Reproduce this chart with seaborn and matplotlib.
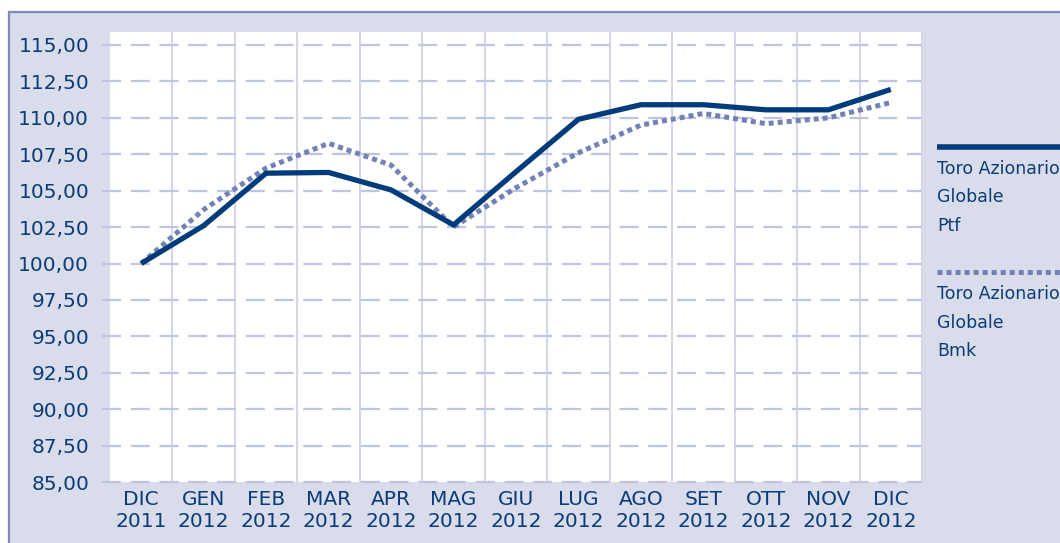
import matplotlib
matplotlib.use("Agg")
import matplotlib.pyplot as plt
import seaborn as sns
import pandas as pd
from matplotlib.patches import Rectangle
from matplotlib.lines import Line2D

months = ["DIC\n2011", "GEN\n2012", "FEB\n2012", "MAR\n2012", "APR\n2012", "MAG\n2012",
          "GIU\n2012", "LUG\n2012", "AGO\n2012", "SET\n2012", "OTT\n2012", "NOV\n2012", "DIC\n2012"]
ptf = [100.00, 102.60, 106.20, 106.25, 105.05, 102.65, 106.30, 109.90, 110.90, 110.90, 110.55, 110.55, 111.95]
bmk = [100.00, 103.70, 106.55, 108.25, 106.75, 102.50, 105.20, 107.60, 109.50, 110.30, 109.60, 110.00, 111.05]
yticks = [85.0, 87.5, 90.0, 92.5, 95.0, 97.5, 100.0, 102.5, 105.0, 107.5, 110.0, 112.5, 115.0]
series_names = ["Toro Azionario\nGlobale\nPtf", "Toro Azionario\nGlobale\nBmk"]

sns.set_theme(style="white")
plt.rcParams['font.family'] = ['DejaVu Sans Condensed', 'DejaVu Sans']
plt.rcParams['lines.scale_dashes'] = False

TXT = "#0b3c78"
LAV = "#d9dcea"
FRAME = "#7d8cc0"
GRID = "#bfc5e0"
VGRID = "#c6cbe3"
C_PTF = "#003c7c"
C_BMK = "#7282b6"

W, H = 1060, 543
fig = plt.figure(figsize=(W / 100, H / 100), dpi=100)
fig.patch.set_facecolor("white")
fig.add_artist(Rectangle((8.5 / W, -0.05), 1.1, 1 - 12 / H + 0.05, transform=fig.transFigure,
                         facecolor=LAV, edgecolor=FRAME, linewidth=1.6, zorder=0))

ax = fig.add_axes([110 / W, 1 - 482 / H, 812 / W, (482 - 32) / H])
ax.set_facecolor("white")

x = list(range(len(months)))
df = pd.DataFrame({
    "x": x * 2,
    "value": ptf + bmk,
    "series": [series_names[0]] * len(x) + [series_names[1]] * len(x),
})

ax.set_xlim(-0.5, 12.5)
ax.set_ylim(85, 115 + 13 / (437 / 30))

# horizontal dashed gridlines (extending slightly left of the plot)
for yv in yticks:
    ax.axhline(yv, xmin=-8 / 812, xmax=1, color=GRID, linewidth=1.6,
               linestyle=(0, (13.7, 7.0)), clip_on=False, zorder=1)
# vertical separators between months
for xv in [i + 0.5 for i in range(len(months))]:
    ax.axvline(xv, color=VGRID, linewidth=1.1, zorder=1)

sns.lineplot(data=df[df.series == series_names[1]], x="x", y="value", ax=ax,
             color=C_BMK, linewidth=3.6, legend=False, zorder=3,
             linestyle=(0, (3.6, 2.9)), solid_capstyle="butt", dash_capstyle="butt")
sns.lineplot(data=df[df.series == series_names[0]], x="x", y="value", ax=ax,
             color=C_PTF, linewidth=3.8, legend=False, zorder=4,
             solid_capstyle="butt", solid_joinstyle="miter")

ax.set_xlabel("")
ax.set_ylabel("")
ax.set_xticks(x)
ax.set_xticklabels(months, fontsize=14.5, color=TXT, linespacing=1.2)
ax.set_xticks([i + 0.5 for i in range(len(months) - 1)], minor=True)
ax.tick_params(axis="x", which="major", length=0, pad=6)
ax.tick_params(axis="x", which="minor", length=13, width=1.1, color=VGRID, direction="out")
ax.set_yticks(yticks)
ax.set_yticklabels([f"{v:.2f}".replace(".", ",") for v in yticks], fontsize=14.5, color=TXT)
ax.tick_params(axis="y", length=0, pad=15)
for s in ax.spines.values():
    s.set_visible(False)

# legend at the right
lx0 = 937 / W
for i, (name, col, ls, yl) in enumerate([
        (series_names[0], C_PTF, "-", 146.5),
        (series_names[1], C_BMK, (0, (3.6, 2.9)), 272)]):
    fig.add_artist(Line2D([lx0, 1.02], [1 - yl / H, 1 - yl / H], transform=fig.transFigure,
                          color=col, linewidth=4.0 if i == 0 else 3.6, linestyle=ls,
                          solid_capstyle="butt", dash_capstyle="butt"))
    fig.text(lx0, 1 - (yl + 13) / H, name, ha="left", va="top", fontsize=12.5,
             color=TXT, linespacing=1.75)

fig.savefig("out.png", dpi=100)
